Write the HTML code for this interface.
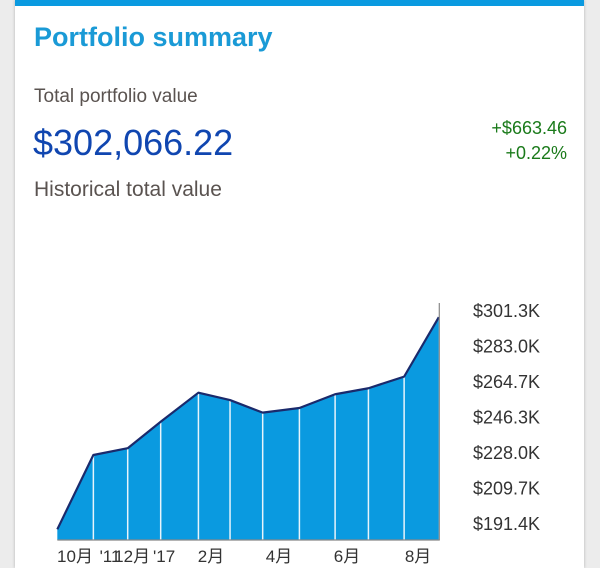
<!DOCTYPE html>
<html><head><meta charset="utf-8"><style>
body{margin:0;width:600px;height:568px;background:#ececec;overflow:hidden;font-family:"Liberation Sans","Noto Sans CJK SC",sans-serif}
#card{position:absolute;left:15px;top:0;width:569px;height:568px;background:#fff;box-shadow:0 0 3px rgba(0,0,0,.25)}
#band{position:absolute;left:0;top:0;width:569px;height:6px;background:#0a9ae0}
.t{position:absolute;white-space:nowrap}
</style></head><body>
<div id="card">
<div id="band"></div>
<div class="t" style="left:19px;top:22px;font-size:27px;font-weight:bold;color:#1a9ad6">Portfolio summary</div>
<div class="t" style="left:19px;top:86px;font-size:19px;color:#5a5350">Total portfolio value</div>
<div class="t" style="left:18px;top:122px;font-size:36px;color:#1046b0">$302,066.22</div>
<div class="t" style="right:17px;top:118px;font-size:18px;color:#1a7a1a;text-align:right">+$663.46</div>
<div class="t" style="right:17px;top:143px;font-size:18px;color:#1a7a1a;text-align:right">+0.22%</div>
<div class="t" style="left:19px;top:178px;font-size:21px;color:#5a5350">Historical total value</div>
</div>
<svg id="chart" width="600" height="568" style="position:absolute;left:0;top:0"></svg>
<script>
const months=[0.48,1.54,2.55,3.52,4.63,5.56,6.52,7.60,8.65,9.63,10.68,11.70];
const values=[188.3,226.7,230.2,243.9,258.9,255.1,248.6,251.0,258.1,261.2,267.2,297.9];
const yTicks=[191.4,209.7,228.0,246.3,264.7,283.0,301.3];
const xTickPos=[1,2.03,2.68,3.62,5,7,9,11.09];
const xTickLabels=["10月","'11","12月","'17","2月","4月","6月","8月"];
const X=m=>41+34*m;
const Y=v=>523.3-(v-191.4)*1.935;
const NS="http://www.w3.org/2000/svg",svg=document.getElementById('chart');
function mk(t,a){const e=document.createElementNS(NS,t);for(const k in a)e.setAttribute(k,a[k]);svg.appendChild(e);return e;}
const base=540,x0=X(months[0]),x1=X(months[months.length-1]);
let d=`M${x0},${base}`;months.forEach((m,i)=>d+=`L${X(m)},${Y(values[i])}`);d+=`L${x1},${base}Z`;
const area=mk('path',{d:d,fill:'#0a9ae0'});


for(let i=1;i<months.length-1;i++){
 const l=mk('line',{x1:X(months[i]),x2:X(months[i]),y1:Y(values[i]),y2:base,stroke:'#e8f4fb','stroke-width':1.5});
 
 
}
const ln=mk('polyline',{points:months.map((m,i)=>X(m)+','+Y(values[i])).join(' '),fill:'none',stroke:'#1a2a6c','stroke-width':2.2,'stroke-linejoin':'round'});


const xa=mk('line',{x1:x0,x2:x1+1,y1:base,y2:base,stroke:'#888','stroke-width':1.2});


const ya=mk('line',{x1:x1+0.5,x2:x1+0.5,y1:303,y2:base,stroke:'#888','stroke-width':1.2});


yTicks.forEach(v=>{
 const t=mk('text',{x:473,y:Y(v)+6.5,'font-size':18,fill:'#333','font-family':'Liberation Sans, sans-serif'});
 t.textContent='$'+v.toFixed(1)+'K';
 
 
});
xTickPos.forEach((m,i)=>{
 const t=mk('text',{x:X(m),y:562,'font-size':17,fill:'#333','text-anchor':'middle','font-family':'Liberation Sans, Noto Sans CJK SC, sans-serif'});
 t.textContent=xTickLabels[i];
 
 
});
</script>
</body></html>
